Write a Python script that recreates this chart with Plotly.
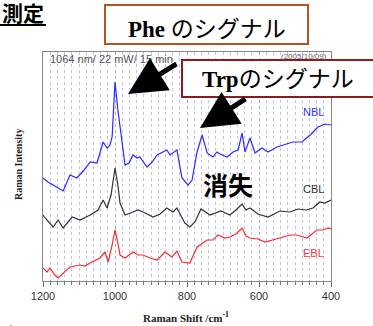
import plotly.graph_objects as go

# ---------------- data ----------------
nbl_shift = [1200, 1186, 1167, 1144, 1125, 1106, 1086, 1069, 1050, 1033, 1022, 1014, 1008, 1000,
             992, 986, 972, 961, 950, 939, 931, 911, 897, 883, 869, 856, 847, 839, 828, 814,
             797, 786, 772, 758, 744, 728, 717, 708, 689, 672, 658, 647, 639, 625, 611, 592,
             575, 550, 533, 506, 481, 458, 436, 417, 400]
nbl_int = [103, 99, 95, 90, 106, 103, 111, 119, 118, 139, 133, 136, 144, 199,
           171, 153, 116, 118, 126, 123, 124, 114, 119, 126, 129, 131, 126, 128, 131, 103,
           96, 101, 129, 146, 128, 124, 129, 127, 124, 129, 131, 148, 129, 143, 128, 133,
           129, 134, 136, 139, 139, 146, 154, 157, 156]

cbl_shift = [1200, 1194, 1172, 1158, 1144, 1131, 1119, 1097, 1069, 1047, 1033, 1022, 1011, 1000,
             992, 986, 972, 950, 936, 922, 894, 875, 856, 839, 828, 806, 792, 778, 761, 736,
             706, 681, 664, 647, 636, 625, 603, 575, 542, 514, 492, 469, 450, 431, 417, 400]
cbl_int = [66, 63, 54, 61, 53, 59, 64, 61, 66, 71, 81, 73, 86, 113,
           96, 78, 66, 69, 71, 69, 64, 67, 73, 69, 73, 58, 54, 59, 72, 66,
           70, 66, 71, 77, 71, 73, 67, 64, 70, 69, 72, 71, 73, 79, 78, 81]

ebl_shift = [1200, 1189, 1181, 1167, 1158, 1144, 1125, 1097, 1083, 1069, 1042, 1028, 1019, 1008,
             1000, 992, 986, 972, 950, 936, 922, 903, 883, 861, 842, 828, 814, 792, 772, 744,
             728, 714, 694, 681, 664, 647, 636, 625, 603, 583, 561, 533, 514, 494, 467, 453,
             439, 422, 408, 400]
ebl_int = [13, 9, 13, 6, 3, 8, 14, 16, 15, 18, 23, 29, 19, 36,
           51, 38, 26, 23, 29, 26, 26, 23, 21, 29, 24, 30, 19, 18, 34, 41,
           41, 46, 43, 44, 47, 53, 45, 43, 42, 39, 41, 44, 46, 46, 43, 47,
           51, 51, 53, 52]

x_ticks = [1200, 1000, 800, 600, 400]
x_tick_labels = ["1200", "1000", "800", "600", "400"]

# ---------------- layout helpers ----------------
W, H = 373, 326
L, R, T, B = 43, 331, 52, 281


def px(x):
    return (x - L) / (R - L)


def py(y):
    return (B - y) / (B - T)


fig = go.Figure()
fig.add_trace(go.Scatter(x=nbl_shift, y=nbl_int, mode="lines",
                         line=dict(color="#2a2aff", width=1.2), showlegend=False))
fig.add_trace(go.Scatter(x=cbl_shift, y=cbl_int, mode="lines",
                         line=dict(color="#333333", width=1.2), showlegend=False))
fig.add_trace(go.Scatter(x=ebl_shift, y=ebl_int, mode="lines",
                         line=dict(color="#ff2a2a", width=1.2), showlegend=False))

grid_col = "rgba(140,140,235,0.55)"
fig.update_layout(
    width=W, height=H,
    margin=dict(l=L, r=W - R, t=T, b=H - B),
    paper_bgcolor="white", plot_bgcolor="white",
    xaxis=dict(range=[1200, 400], tickvals=x_ticks, ticktext=x_tick_labels,
               ticks="outside", ticklen=5, tickcolor="#666",
               showline=True, linecolor="#888", linewidth=1, mirror=True,
               showgrid=True, gridcolor=grid_col, griddash="dot", gridwidth=1,
               minor=dict(dtick=20, tick0=400, ticks="outside", ticklen=3, tickcolor="#777",
                          showgrid=True, gridcolor=grid_col, griddash="dot", gridwidth=1),
               tickfont=dict(family="Liberation Sans, Arial", size=11, color="#333"),
               zeroline=False),
    yaxis=dict(range=[0, 229], showticklabels=False, ticks="", showgrid=False,
               showline=True, linecolor="#888", linewidth=1, mirror=True, zeroline=False),
)

serif_jp = "Liberation Serif, Noto Sans CJK JP"
shapes = []
annotations = []

# boxes
shapes.append(dict(type="rect", xref="paper", yref="paper",
                   x0=px(105), x1=px(308), y0=py(44), y1=py(5),
                   line=dict(color="#b0561e", width=2), fillcolor="white", layer="above"))
shapes.append(dict(type="rect", xref="paper", yref="paper",
                   x0=px(182), x1=px(380), y0=py(97), y1=py(60),
                   line=dict(color="#8b1c1c", width=2), fillcolor="white", layer="above"))
# underline of heading
shapes.append(dict(type="line", xref="paper", yref="paper",
                   x0=px(-2), x1=px(46), y0=py(25), y1=py(25),
                   line=dict(color="black", width=2), layer="above"))
fig.update_layout(shapes=shapes)

annotations += [
    dict(text="<b>測定</b>", x=px(46), y=py(12), xanchor="right", yanchor="middle",
         font=dict(family="Noto Sans CJK JP", size=21, color="black")),
    dict(text="<b>Phe</b> のシグナル", x=px(207), y=py(29), xanchor="center", yanchor="middle",
         font=dict(family=serif_jp, size=23, color="black")),
    dict(text="<b>Trp</b>のシグナル", x=px(278), y=py(80), xanchor="center", yanchor="middle",
         font=dict(family=serif_jp, size=23, color="black")),
    dict(text="1064 nm/ 22 mW/ 15 min", x=px(48), y=py(59), xanchor="left", yanchor="middle",
         font=dict(family="Liberation Sans, Arial", size=11, color="#555")),
    dict(text="(2005/10/09)", x=px(329), y=py(56), xanchor="right", yanchor="middle",
         font=dict(family="Liberation Sans, Arial", size=8, color="#666")),
    dict(text="NBL", x=px(326), y=py(112), xanchor="right", yanchor="middle",
         font=dict(family="Liberation Sans, Arial", size=11, color="#3333ff")),
    dict(text="CBL", x=px(326), y=py(189), xanchor="right", yanchor="middle",
         font=dict(family="Liberation Sans, Arial", size=11, color="#333")),
    dict(text="EBL", x=px(326), y=py(253), xanchor="right", yanchor="middle",
         font=dict(family="Liberation Sans, Arial", size=11, color="#ff3333")),
    dict(text="<b>消失</b>", x=px(228), y=py(184), xanchor="center", yanchor="middle",
         font=dict(family="Noto Sans CJK JP", size=25, color="black")),
    dict(text="<b>Raman Intensity</b>", x=px(18), y=py(165), xanchor="center", yanchor="middle",
         textangle=-90, font=dict(family="Liberation Serif", size=10, color="#222")),
    dict(text="<b>Raman Shift /cm<sup>-1</sup></b>", x=px(186), y=py(317), xanchor="center",
         yanchor="middle", font=dict(family="Liberation Serif", size=11, color="#222")),
    dict(text="書", x=px(0), y=py(318), xanchor="left", yanchor="top",
         font=dict(family="Noto Sans CJK JP", size=18, color="black")),
    # arrows
    dict(text="", x=px(128), y=py(94), ax=50, ay=-31, showarrow=True,
         arrowhead=2, arrowsize=1.5, arrowwidth=5, arrowcolor="black"),
    dict(text="", x=px(200), y=py(128), ax=47, ay=-30, showarrow=True,
         arrowhead=2, arrowsize=1.5, arrowwidth=5, arrowcolor="black"),
]
for a in annotations:
    a.setdefault("xref", "paper")
    a.setdefault("yref", "paper")
    a.setdefault("showarrow", False)
fig.update_layout(annotations=annotations)

fig.write_html("out.html", config={"displayModeBar": False},
               post_script="document.body.style.margin='0';document.body.style.padding='0';")
